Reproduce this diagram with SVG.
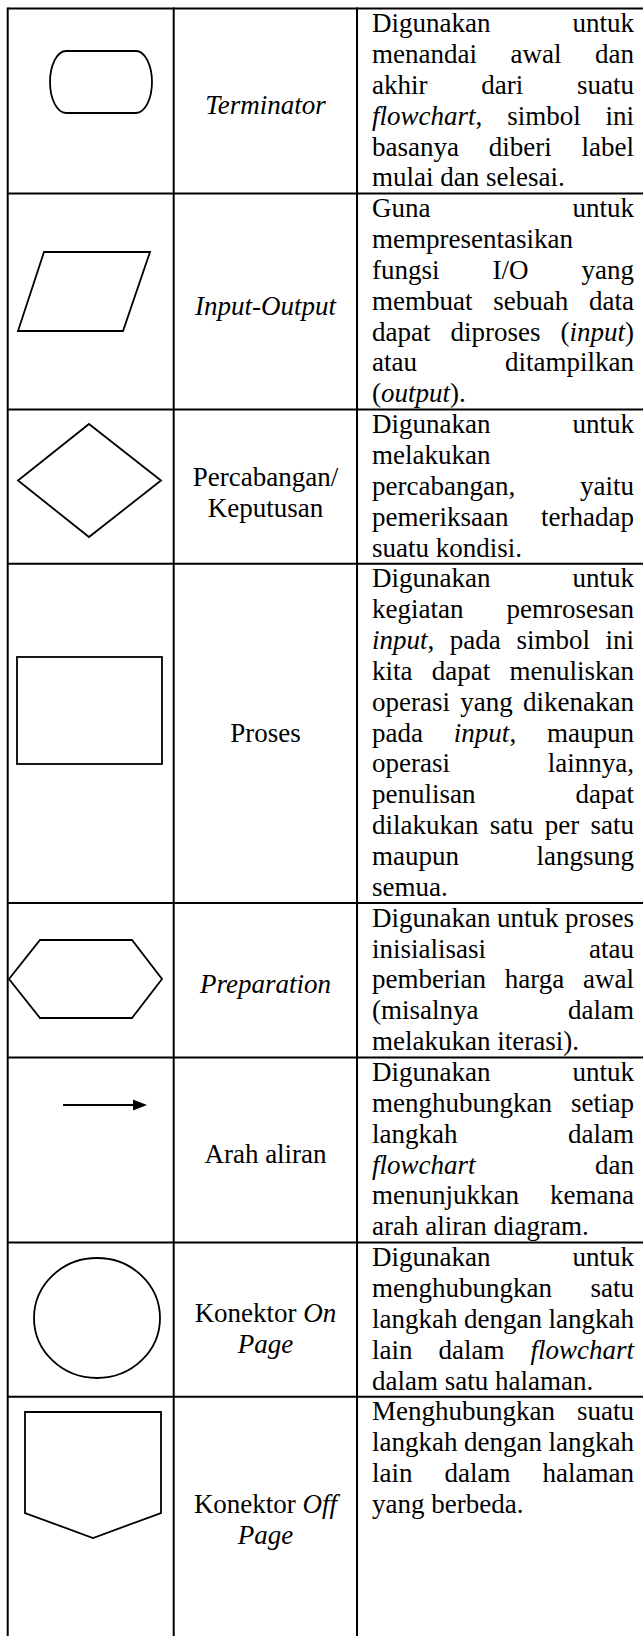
<svg xmlns="http://www.w3.org/2000/svg" width="643" height="1636" viewBox="0 0 643 1636">
<style>
.t{font-family:"Liberation Serif","Times New Roman",serif;font-size:27px;fill:#000}
.i{font-style:italic}
.e{text-anchor:end}
.m{text-anchor:middle}
.sh{fill:none;stroke:#000;stroke-width:1.8;stroke-linejoin:miter}
.grid line{stroke:#000;stroke-width:2}
</style>
<rect width="643" height="1636" fill="#fff"/>
<g id="grid" class="grid">
<line x1="7.7" y1="8.5" x2="643" y2="8.5"/>
<line x1="7.7" y1="7.5" x2="7.7" y2="1636"/>
<line x1="173.7" y1="7.5" x2="173.7" y2="1636"/>
<line x1="357" y1="7.5" x2="357" y2="1636"/>
<line x1="7.7" y1="193.6" x2="643" y2="193.6"/>
<line x1="7.7" y1="409.5" x2="643" y2="409.5"/>
<line x1="7.7" y1="563.75" x2="643" y2="563.75"/>
<line x1="7.7" y1="903.1" x2="643" y2="903.1"/>
<line x1="7.7" y1="1057.4" x2="643" y2="1057.4"/>
<line x1="7.7" y1="1242.5" x2="643" y2="1242.5"/>
<line x1="7.7" y1="1396.75" x2="643" y2="1396.75"/>
</g>
<g id="connectors"></g>

<g id="row-terminator">
<path class="sh" d="M66,51 H136 A16,31 0 0 1 136,113 H66 A16,31 0 0 1 66,51 Z"/>
<text class="t i m" x="265.5" y="114">Terminator</text>
<text class="t" x="372" y="32.1">Digunakan</text><text class="t e" x="634" y="32.1">untuk</text>
<text class="t" x="372" y="62.95">menandai</text><text class="t m" x="536" y="62.95">awal</text><text class="t e" x="634" y="62.95">dan</text>
<text class="t" x="372" y="93.8">akhir</text><text class="t m" x="502.3" y="93.8">dari</text><text class="t e" x="634" y="93.8">suatu</text>
<text class="t" x="372" y="124.65"><tspan class="i">flowchart</tspan>,</text><text class="t m" x="543.9" y="124.65">simbol</text><text class="t e" x="634" y="124.65">ini</text>
<text class="t" x="372" y="155.5">basanya</text><text class="t m" x="520.3" y="155.5">diberi</text><text class="t e" x="634" y="155.5">label</text>
<text class="t" x="372" y="186.35">mulai dan selesai.</text>
</g>

<g id="row-input-output">
<path class="sh" d="M44,252 L150,252 L123,331 L18,331 Z"/>
<text class="t i m" x="265.5" y="315">Input-Output</text>
<text class="t" x="372" y="217.2">Guna</text><text class="t e" x="634" y="217.2">untuk</text>
<text class="t" x="372" y="248.05">mempresentasikan</text>
<text class="t" x="372" y="278.9">fungsi</text><text class="t m" x="510.5" y="278.9">I/O</text><text class="t e" x="634" y="278.9">yang</text>
<text class="t" x="372" y="309.75">membuat</text><text class="t m" x="530.8" y="309.75">sebuah</text><text class="t e" x="634" y="309.75">data</text>
<text class="t" x="372" y="340.6">dapat</text><text class="t m" x="495.5" y="340.6">diproses</text><text class="t e" x="634" y="340.6">(<tspan class="i">input</tspan>)</text>
<text class="t" x="372" y="371.45">atau</text><text class="t e" x="634" y="371.45">ditampilkan</text>
<text class="t" x="372" y="402.3">(<tspan class="i">output</tspan>).</text>
</g>

<g id="row-percabangan">
<path class="sh" d="M89,424 L161,480.5 L89,537 L18,480.5 Z"/>
<text class="t m" x="265.5" y="486">Percabangan/</text>
<text class="t m" x="265.5" y="517">Keputusan</text>
<text class="t" x="372" y="433.1">Digunakan</text><text class="t e" x="634" y="433.1">untuk</text>
<text class="t" x="372" y="463.95">melakukan</text>
<text class="t" x="372" y="494.8">percabangan,</text><text class="t e" x="634" y="494.8">yaitu</text>
<text class="t" x="372" y="525.65">pemeriksaan</text><text class="t e" x="634" y="525.65">terhadap</text>
<text class="t" x="372" y="556.5">suatu kondisi.</text>
</g>

<g id="row-proses">
<rect class="sh" x="17" y="657" width="145" height="107"/>
<text class="t m" x="265.5" y="741.6">Proses</text>
<text class="t" x="372" y="587.35">Digunakan</text><text class="t e" x="634" y="587.35">untuk</text>
<text class="t" x="372" y="618.2">kegiatan</text><text class="t e" x="634" y="618.2">pemrosesan</text>
<text class="t" x="372" y="649.05"><tspan class="i">input</tspan>,</text><text class="t m" x="475.3" y="649.05">pada</text><text class="t m" x="553.2" y="649.05">simbol</text><text class="t e" x="634" y="649.05">ini</text>
<text class="t" x="372" y="679.9">kita</text><text class="t m" x="461" y="679.9">dapat</text><text class="t e" x="634" y="679.9">menuliskan</text>
<text class="t" x="372" y="710.75">operasi</text><text class="t m" x="486.5" y="710.75">yang</text><text class="t e" x="634" y="710.75">dikenakan</text>
<text class="t" x="372" y="741.6">pada</text><text class="t m" x="485" y="741.6"><tspan class="i">input</tspan>,</text><text class="t e" x="634" y="741.6">maupun</text>
<text class="t" x="372" y="772.45">operasi</text><text class="t e" x="634" y="772.45">lainnya,</text>
<text class="t" x="372" y="803.3">penulisan</text><text class="t e" x="634" y="803.3">dapat</text>
<text class="t" x="372" y="834.15">dilakukan</text><text class="t m" x="511.6" y="834.15">satu</text><text class="t m" x="561.9" y="834.15">per</text><text class="t e" x="634" y="834.15">satu</text>
<text class="t" x="372" y="865">maupun</text><text class="t e" x="634" y="865">langsung</text>
<text class="t" x="372" y="895.85">semua.</text>
</g>

<g id="row-preparation">
<path class="sh" d="M9,979 L40,940 L132,940 L162,979 L132,1018 L40,1018 Z"/>
<text class="t i m" x="265.5" y="993">Preparation</text>
<text class="t" x="372" y="926.7">Digunakan</text><text class="t m" x="527.8" y="926.7">untuk</text><text class="t e" x="634" y="926.7">proses</text>
<text class="t" x="372" y="957.55">inisialisasi</text><text class="t e" x="634" y="957.55">atau</text>
<text class="t" x="372" y="988.4">pemberian</text><text class="t m" x="534.5" y="988.4">harga</text><text class="t e" x="634" y="988.4">awal</text>
<text class="t" x="372" y="1019.25">(misalnya</text><text class="t e" x="634" y="1019.25">dalam</text>
<text class="t" x="372" y="1050.1">melakukan iterasi).</text>
</g>

<g id="row-arah-aliran">
<line x1="63" y1="1105" x2="135" y2="1105" stroke="#000" stroke-width="2.2"/>
<path d="M133,1099.5 L147,1105 L133,1110.5 Z" fill="#000"/>
<text class="t m" x="265.5" y="1163">Arah aliran</text>
<text class="t" x="372" y="1081">Digunakan</text><text class="t e" x="634" y="1081">untuk</text>
<text class="t" x="372" y="1111.85">menghubungkan</text><text class="t e" x="634" y="1111.85">setiap</text>
<text class="t" x="372" y="1142.7">langkah</text><text class="t e" x="634" y="1142.7">dalam</text>
<text class="t i" x="372" y="1173.55">flowchart</text><text class="t e" x="634" y="1173.55">dan</text>
<text class="t" x="372" y="1204.4">menunjukkan</text><text class="t e" x="634" y="1204.4">kemana</text>
<text class="t" x="372" y="1235.25">arah aliran diagram.</text>
</g>

<g id="row-konektor-on-page">
<ellipse class="sh" cx="97" cy="1318" rx="63" ry="60"/>
<text class="t m" x="265.5" y="1322">Konektor <tspan class="i">On</tspan></text>
<text class="t i m" x="265.5" y="1353">Page</text>
<text class="t" x="372" y="1266.1">Digunakan</text><text class="t e" x="634" y="1266.1">untuk</text>
<text class="t" x="372" y="1296.95">menghubungkan</text><text class="t e" x="634" y="1296.95">satu</text>
<text class="t" x="372" y="1327.8">langkah</text><text class="t m" x="503" y="1327.8">dengan</text><text class="t e" x="634" y="1327.8">langkah</text>
<text class="t" x="372" y="1358.65">lain</text><text class="t m" x="471.5" y="1358.65">dalam</text><text class="t i e" x="634" y="1358.65">flowchart</text>
<text class="t" x="372" y="1389.5">dalam satu halaman.</text>
</g>

<g id="row-konektor-off-page">
<path class="sh" d="M25,1412 L161,1412 L161,1513 L93,1538 L25,1513 Z"/>
<text class="t m" x="265.5" y="1513">Konektor <tspan class="i">Off</tspan></text>
<text class="t i m" x="265.5" y="1544">Page</text>
<text class="t" x="372" y="1420.35">Menghubungkan</text><text class="t e" x="634" y="1420.35">suatu</text>
<text class="t" x="372" y="1451.2">langkah</text><text class="t m" x="503" y="1451.2">dengan</text><text class="t e" x="634" y="1451.2">langkah</text>
<text class="t" x="372" y="1482.05">lain</text><text class="t m" x="477.5" y="1482.05">dalam</text><text class="t e" x="634" y="1482.05">halaman</text>
<text class="t" x="372" y="1512.9">yang berbeda.</text>
</g>
</svg>
